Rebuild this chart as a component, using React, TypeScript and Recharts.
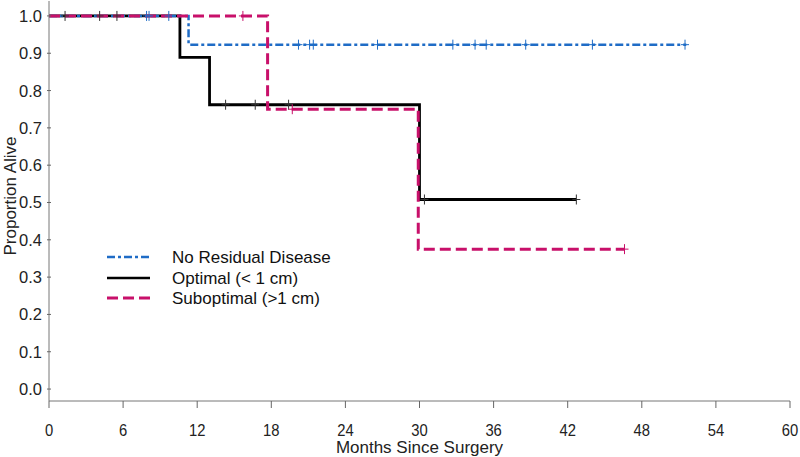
import React from 'react';
import { ComposedChart, Line, Scatter, XAxis, YAxis } from 'recharts';

const noResTimes = [0, 11.3, 51.6];
const noResSurv = [1, 0.923, 0.923];
const optTimes = [0, 10.6, 13.0, 30.0, 42.7];
const optSurv = [1, 0.889, 0.762, 0.508, 0.508];
const subTimes = [0, 17.7, 29.9, 46.6];
const subSurv = [1, 0.75, 0.375, 0.375];

const noResCensT = [7.9, 8.1, 9.7, 20.2, 21.1, 21.4, 26.6, 32.7, 34.5, 35.4, 38.6, 44.0, 51.5];
const noResCensS = [1, 1, 1, 0.923, 0.923, 0.923, 0.923, 0.923, 0.923, 0.923, 0.923, 0.923, 0.923];
const optCensT = [1.3, 4.1, 5.5, 14.3, 16.7, 19.4, 30.4, 42.7];
const optCensS = [1, 1, 1, 0.762, 0.762, 0.762, 0.508, 0.508];
const subCensT = [15.7, 19.7, 46.6];
const subCensS = [1, 0.75, 0.375];

const xTicks = [0, 6, 12, 18, 24, 30, 36, 42, 48, 54, 60];
const yTicks = [0, 0.1, 0.2, 0.3, 0.4, 0.5, 0.6, 0.7, 0.8, 0.9, 1.0];
const seriesNames = ['No Residual Disease', 'Optimal (< 1 cm)', 'Suboptimal (>1 cm)'];

const BLUE = '#1f6cc6';
const BLACK = '#000000';
const PINK = '#c8106a';

const zip = (t: number[], s: number[]) => t.map((v, i) => ({ t: v, s: s[i] }));

const noResData = zip(noResTimes, noResSurv);
const optData = zip(optTimes, optSurv);
const subData = zip(subTimes, subSurv);
const noResCens = zip(noResCensT, noResCensS);
const optCens = zip(optCensT, optCensS);
const subCens = zip(subCensT, subCensS);

const FONT = "'Liberation Sans', Arial, sans-serif";

const censorShape = (color: string) => (props: any) => {
  const { cx, cy } = props;
  if (cx == null || cy == null) return <g />;
  return (
    <g>
      <line x1={cx} y1={cy - 5} x2={cx} y2={cy + 5} stroke={color} strokeWidth={1} />
      <line x1={cx - 4} y1={cy} x2={cx + 4} y2={cy} stroke={color} strokeWidth={1} />
    </g>
  );
};

const YTick = (props: any) => {
  const { x, y, payload } = props;
  return (
    <g>
      <line x1={x} y1={y} x2={x + 4} y2={y} stroke="#666" strokeWidth={1} />
      <text x={x - 5} y={y} dy={6} textAnchor="end" fontSize={16.5} fill="#222" fontFamily={FONT}>
        {Number(payload.value).toFixed(1)}
      </text>
    </g>
  );
};

const XTick = (props: any) => {
  const { x, y, payload } = props;
  return (
    <g transform={`translate(${x},${y + 26}) scale(0.87,1)`}>
      <text x={0} y={0} textAnchor="middle" fontSize={17} fill="#222" fontFamily={FONT}>
        {payload.value}
      </text>
    </g>
  );
};

const XTitle = (props: any) => {
  const vb = props.viewBox || {};
  const cx = (vb.x || 0) + (vb.width || 0) / 2;
  return (
    <g transform={`translate(${cx},453) scale(1,1)`}>
      <text x={0} y={0} textAnchor="middle" fontSize={17} fill="#222" fontFamily={FONT}>
        Months Since Surgery
      </text>
    </g>
  );
};

const YTitle = () => (
  <text transform="translate(16,196) rotate(-90)" textAnchor="middle" fontSize={17} fill="#222" fontFamily={FONT}>
    Proportion Alive
  </text>
);

const LegendBox = () => (
  <svg width={280} height={75} style={{ position: 'absolute', left: 100, top: 240 }}>
    <line x1={7} y1={17} x2={50} y2={17} stroke={BLUE} strokeWidth={2.5} strokeDasharray="8 3 3 3" />
    <line x1={7} y1={38} x2={50} y2={38} stroke={BLACK} strokeWidth={2.5} />
    <line x1={7} y1={58} x2={50} y2={58} stroke={PINK} strokeWidth={3} strokeDasharray="11 5" />
    <text x={72} y={23} fontSize={17} fill="#111" fontFamily={FONT}>{seriesNames[0]}</text>
    <text x={72} y={44} fontSize={17} fill="#111" fontFamily={FONT}>{seriesNames[1]}</text>
    <text x={72} y={64} fontSize={17} fill="#111" fontFamily={FONT}>{seriesNames[2]}</text>
  </svg>
);

export default function App() {
  return (
    <div style={{ position: 'absolute', left: 0, top: 0, width: 800, height: 457, background: '#fff' }}>
      <ComposedChart width={800} height={457} margin={{ top: 1, right: 10, left: 0, bottom: 0 }}>
        <XAxis
          dataKey="t"
          type="number"
          domain={[0, 60]}
          ticks={xTicks}
          allowDataOverflow
          stroke="#777"
          tickSize={7}
          tickLine={{ stroke: '#666' }}
          tick={<XTick />}
          height={56}
          label={<XTitle />}
        />
        <XAxis xAxisId="top" orientation="top" type="number" domain={[0, 60]} height={0} tick={false} tickLine={false} stroke="#aaa" />
        <YAxis
          type="number"
          domain={[-0.032, 1.04]}
          ticks={yTicks}
          allowDataOverflow
          width={49}
          stroke="#777"
          tickSize={0}
          tickLine={false}
          tick={<YTick />}
          label={<YTitle />}
        />
        <YAxis yAxisId="right" orientation="right" type="number" domain={[0, 1]} width={0} tick={false} tickLine={false} stroke="#aaa" />
        <Line data={optData} dataKey="s" type="stepAfter" stroke={BLACK} strokeWidth={2.8} dot={false} isAnimationActive={false} name={seriesNames[1]} />
        <Line data={noResData} dataKey="s" type="stepAfter" stroke={BLUE} strokeWidth={2.5} strokeDasharray="8 3 3 3" dot={false} isAnimationActive={false} name={seriesNames[0]} />
        <Line data={subData} dataKey="s" type="stepAfter" stroke={PINK} strokeWidth={3} strokeDasharray="11 5" dot={false} isAnimationActive={false} name={seriesNames[2]} />
        <Scatter data={optCens} dataKey="s" shape={censorShape('#333')} isAnimationActive={false} />
        <Scatter data={noResCens} dataKey="s" shape={censorShape(BLUE)} isAnimationActive={false} />
        <Scatter data={subCens} dataKey="s" shape={censorShape(PINK)} isAnimationActive={false} />
      </ComposedChart>
      <LegendBox />
    </div>
  );
}
